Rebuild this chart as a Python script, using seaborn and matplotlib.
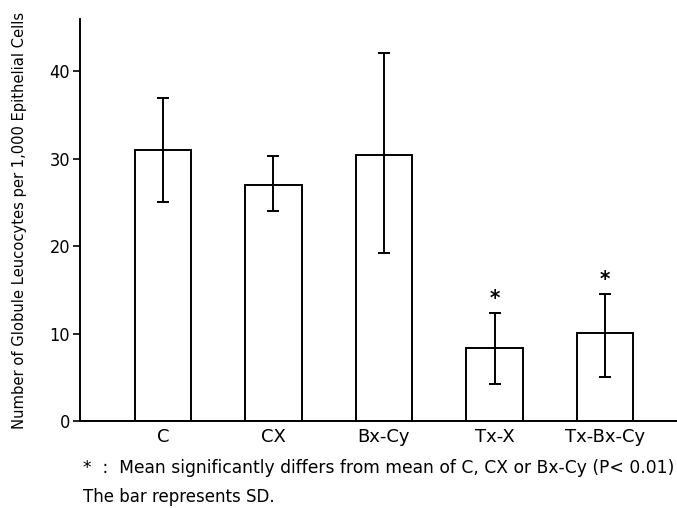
import numpy as np
import pandas as pd
import seaborn as sns
import matplotlib.pyplot as plt

# values
groups = ["C", "CX", "Bx-Cy", "Tx-X", "Tx-Bx-Cy"]
means = [31.0, 27.0, 30.4, 8.4, 10.1]
sd_low = [25.0, 24.0, 19.2, 4.3, 5.0]
sd_high = [37.0, 30.3, 42.1, 12.4, 14.5]
significant = [False, False, False, True, True]

df = pd.DataFrame({"group": groups, "mean": means})

sns.set_style("ticks")
plt.rcParams["font.family"] = ["DejaVu Sans"]
plt.rcParams["font.stretch"] = "condensed"
plt.rcParams["text.color"] = "black"
plt.rcParams["xtick.color"] = "black"
plt.rcParams["ytick.color"] = "black"
plt.rcParams["axes.labelcolor"] = "black"

fig = plt.figure(figsize=(6.77, 5.08), dpi=100)
ax = fig.add_axes([0.118, 0.171, 0.882, 0.792])

sns.barplot(data=df, x="group", y="mean", color="white", edgecolor="black",
            linewidth=1.4, width=0.51, errorbar=None, ax=ax)

yerr = [np.array(means) - np.array(sd_low), np.array(sd_high) - np.array(means)]
ax.errorbar(np.arange(len(groups)), means, yerr=yerr, fmt="none",
            ecolor="black", elinewidth=1.4, capsize=4.5, capthick=1.4)

# asterisks for significant groups
for i, sig in enumerate(significant):
    if sig:
        ax.annotate("*", xy=(i, sd_high[i]), xytext=(0, 3), textcoords="offset points",
                    ha="center", va="bottom", fontsize=16, fontweight="bold")

ax.set_xlim(-0.75, 4.65)
ax.set_ylim(0, 46)
ax.set_yticks([0, 10, 20, 30, 40])
ax.tick_params(axis="y", labelsize=13, length=5, width=1.2, direction="out", pad=2)
ax.tick_params(axis="x", length=0, pad=5)
for lbl in ax.get_xticklabels():
    lbl.set_fontsize(13)
    lbl.set_fontstretch("normal")
ax.set_xlabel("")
ax.set_ylabel("Number of Globule Leucocytes per 1,000 Epithelial Cells", fontsize=11.8)
ax.yaxis.set_label_coords(-0.089, 0.5)

sns.despine(ax=ax)
for s in ["left", "bottom"]:
    ax.spines[s].set_linewidth(1.4)
    ax.spines[s].set_color("black")

fig.text(0.122, 0.079, "*  :  Mean significantly differs from mean of C, CX or Bx-Cy (P< 0.01)",
         fontsize=12.3, ha="left", va="center", fontstretch="normal")
fig.text(0.122, 0.022, "The bar represents SD.", fontsize=12, ha="left", va="center",
         fontstretch="normal")

fig.savefig("out.png", dpi=100)
